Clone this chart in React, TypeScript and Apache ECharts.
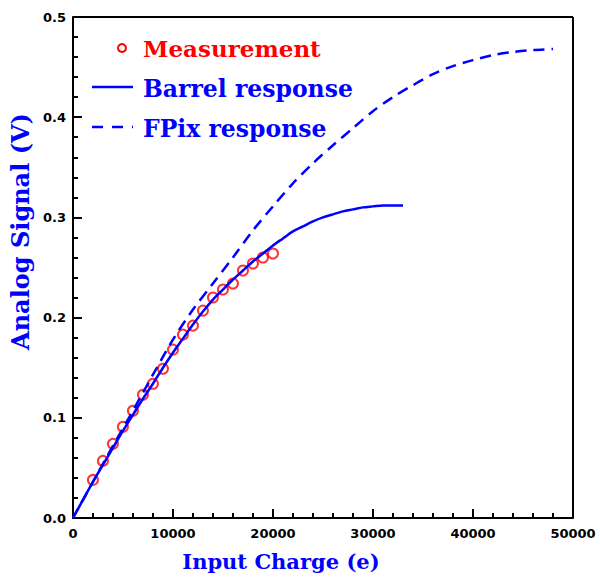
import React, { useEffect, useRef } from "react";
import * as echarts from "echarts";

const measX = [2000, 3000, 4000, 5000, 6000, 7000, 8000, 9000, 10000, 11000, 12000, 13000, 14000, 15000, 16000, 17000, 18000, 19000, 20000];
const measY = [0.038, 0.057, 0.074, 0.091, 0.107, 0.123, 0.134, 0.149, 0.168, 0.183, 0.192, 0.207, 0.220, 0.228, 0.234, 0.247, 0.254, 0.260, 0.264];

const barrelX = [0, 1000, 2000, 3000, 4000, 5000, 6000, 7000, 8000, 9000, 10000, 11000, 12000, 13000, 14000, 15000, 16000, 17000, 18000, 19000, 20000, 21000, 22000, 23000, 24000, 25000, 26000, 27000, 28000, 29000, 30000, 31000, 32000, 33000];
const barrelY = [0, 0.018, 0.036, 0.053, 0.070, 0.087, 0.103, 0.119, 0.134, 0.150, 0.165, 0.179, 0.193, 0.206, 0.218, 0.228, 0.238, 0.247, 0.256, 0.264, 0.272, 0.279, 0.286, 0.291, 0.296, 0.300, 0.303, 0.306, 0.308, 0.310, 0.311, 0.312, 0.312, 0.312];

const fpixX = [0, 2000, 4000, 6000, 8000, 10000, 12000, 14000, 16000, 18000, 20000, 22000, 24000, 26000, 28000, 30000, 32000, 34000, 36000, 38000, 40000, 42000, 44000, 46000, 48000];
const fpixY = [0, 0.036, 0.072, 0.107, 0.143, 0.178, 0.208, 0.234, 0.260, 0.287, 0.311, 0.334, 0.354, 0.372, 0.389, 0.406, 0.420, 0.432, 0.443, 0.451, 0.457, 0.462, 0.465, 0.467, 0.468];

const xMax = 50000;
const yMax = 0.5;

const legendLabels = ["Measurement", "Barrel response", "FPix response"];
const xTitle = "Input Charge (e)";
const yTitle = "Analog Signal (V)";

const BLUE = "#0000ff";
const RED = "#ff0000";
const SERIF = "'DejaVu Serif', serif";
const SANS = "'DejaVu Sans', sans-serif";

export default function App() {
  const ref = useRef<HTMLDivElement>(null);
  useEffect(() => {
    if (!ref.current) return;
    const chart = echarts.init(ref.current, null, { renderer: "svg" });
    const zip = (xs: number[], ys: number[]) => xs.map((x, i) => [x, ys[i]]);
    const base = {
      axisLine: { show: true, onZero: false, lineStyle: { color: "#000", width: 2 } },
      axisTick: { show: true, inside: true, length: 9, lineStyle: { color: "#000", width: 2 } },
      minorTick: { show: true, splitNumber: 5, length: 5, lineStyle: { color: "#000", width: 2 } },
      splitLine: { show: false },
    };
    const labelStyle = { color: "#000", fontFamily: SANS, fontWeight: "bold", fontSize: 13 };
    chart.setOption({
      animation: false,
      backgroundColor: "#fff",
      grid: [{ left: 72, right: 27, top: 17, bottom: 58 }],
      xAxis: [
        {
          type: "value", gridIndex: 0, min: 0, max: xMax, interval: 10000, ...base,
          axisLabel: { ...labelStyle, margin: 9, formatter: (v: number) => String(v) },
          name: xTitle, nameLocation: "middle", nameGap: 33,
          nameTextStyle: { color: BLUE, fontFamily: SERIF, fontWeight: "bold", fontSize: 21, padding: [0, 84, 0, 0] },
        },
      ],
      yAxis: [
        {
          type: "value", gridIndex: 0, min: 0, max: yMax, interval: 0.1, ...base,
          axisLabel: { ...labelStyle, margin: 7, formatter: (v: number) => v.toFixed(1) },
          name: yTitle, nameLocation: "middle", nameGap: 30,
          nameTextStyle: { color: BLUE, fontFamily: SERIF, fontWeight: "bold", fontSize: 24, padding: [0, 0, 0, 72] },
        },
      ],
      series: [
        {
          name: legendLabels[2], type: "line", xAxisIndex: 0, yAxisIndex: 0, data: zip(fpixX, fpixY), showSymbol: false, smooth: 0.3,
          lineStyle: { color: BLUE, width: 2.5, type: [11, 7] },
        },
        {
          name: legendLabels[1], type: "line", xAxisIndex: 0, yAxisIndex: 0, data: zip(barrelX, barrelY), showSymbol: false, smooth: 0.3,
          lineStyle: { color: BLUE, width: 2.5 },
        },
        {
          name: legendLabels[0], type: "scatter", xAxisIndex: 0, yAxisIndex: 0, data: zip(measX, measY), symbol: "circle", symbolSize: 10,
          itemStyle: { color: "transparent", borderColor: RED, borderWidth: 2 },
          markLine: {
            silent: true, symbol: ["none", "none"], label: { show: false },
            lineStyle: { color: "#000", width: 2, type: "solid" },
            data: [{ yAxis: yMax }, { xAxis: xMax }],
          },
        },
      ],
      graphic: [
        { type: "circle", shape: { cx: 122, cy: 48, r: 4 }, style: { fill: "none", stroke: RED, lineWidth: 2 } },
        { type: "text", x: 143, y: 48, style: { text: legendLabels[0], fill: RED, font: `bold 23px ${SERIF}`, verticalAlign: "middle" } },
        { type: "line", shape: { x1: 92, y1: 87, x2: 133, y2: 87 }, style: { stroke: BLUE, lineWidth: 2.5 } },
        { type: "text", x: 143, y: 89, style: { text: legendLabels[1], fill: BLUE, font: `bold 23.5px ${SERIF}`, verticalAlign: "middle" } },
        { type: "line", shape: { x1: 92, y1: 127, x2: 133, y2: 127 }, style: { stroke: BLUE, lineWidth: 2.5, lineDash: [11, 9] } },
        { type: "text", x: 143, y: 129, style: { text: legendLabels[2], fill: BLUE, font: `bold 23.5px ${SERIF}`, verticalAlign: "middle" } },
      ],
    });
    return () => chart.dispose();
  }, []);
  return <div ref={ref} style={{ width: 600, height: 577, position: "absolute", left: 0, top: 0 }} />;
}
